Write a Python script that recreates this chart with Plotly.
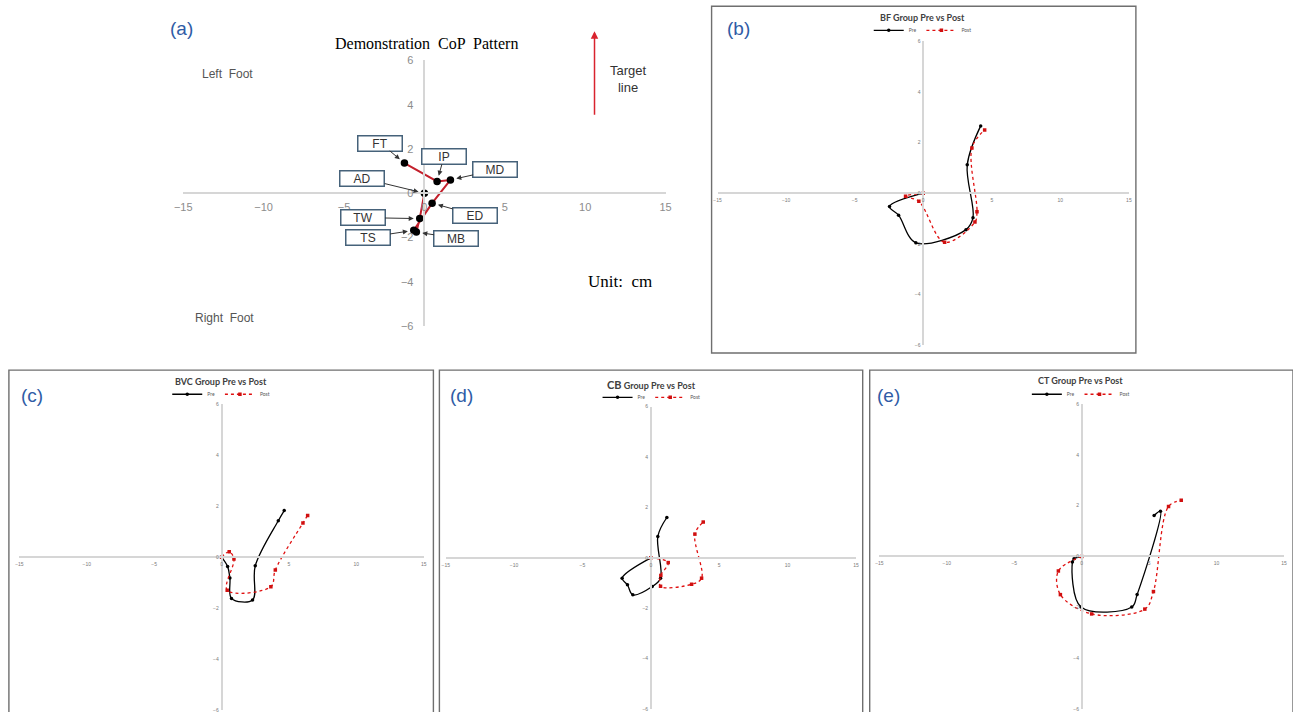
import plotly.graph_objects as go

# target picture size and the page framing around the figure
PAGE_W, PAGE_H = 1293, 712
BODY_MARGIN = 8
SX = PAGE_W / (PAGE_W + 2 * BODY_MARGIN)
SY = PAGE_H / (PAGE_H + 2 * BODY_MARGIN)
W, H = PAGE_W + BODY_MARGIN, PAGE_H + BODY_MARGIN

# ---- data -------------------------------------------------------------
# (a) demonstration CoP pattern over the swing phases
demo_phases = ["AD", "TW", "MB", "TS", "ED", "MD", "IP", "FT"]
demo_x = [0.0, -0.29, -0.50, -0.66, 0.48, 1.62, 0.79, -1.24]
demo_y = [0.0, -1.15, -1.76, -1.68, -0.45, 0.60, 0.53, 1.36]

# (b) BF group
bf_pre_x = [0.0, -2.46, -1.80, -0.54, 3.12, 3.63, 3.21, 4.19]
bf_pre_y = [0.0, -0.53, -0.87, -1.96, -1.44, -0.97, 1.12, 2.66]
bf_post_x = [0.0, -1.29, -0.32, 1.56, 3.77, 3.92, 3.55, 4.48]
bf_post_y = [0.0, -0.12, -0.32, -1.94, -1.14, -0.73, 1.79, 2.50]

# (c) BVC group
bvc_pre_x = [0.0, 0.45, 0.62, 0.74, 2.30, 2.50, 4.21, 4.65]
bvc_pre_y = [0.0, -0.37, -0.82, -1.62, -1.68, -0.34, 1.43, 1.83]
bvc_post_x = [0.0, 0.57, 0.92, 0.42, 3.66, 3.99, 6.04, 6.39]
bvc_post_y = [0.0, 0.21, -0.07, -1.30, -1.16, -0.50, 1.34, 1.64]

# (d) CB group
cb_pre_x = [0.0, -2.10, -1.71, -1.32, 0.10, 0.71, 0.51, 1.17]
cb_pre_y = [0.0, -0.81, -1.07, -1.47, -1.14, -0.81, 0.85, 1.60]
cb_post_x = [0.0, 1.27, 0.73, 0.71, 2.98, 3.71, 3.22, 3.83]
cb_post_y = [0.0, -0.19, -0.70, -1.13, -1.05, -0.81, 0.94, 1.42]

# (e) CT group
ct_pre_x = [0.0, -0.57, -0.69, -0.05, 3.71, 4.11, 5.84, 5.37]
ct_pre_y = [0.0, -0.09, -0.22, -1.99, -1.99, -1.50, 1.78, 1.61]
ct_post_x = [0.0, -1.73, -1.58, 0.74, 4.68, 5.32, 6.44, 7.38]
ct_post_y = [0.0, -0.57, -1.50, -2.26, -2.07, -1.38, 1.97, 2.21]

x_ticks = [-15, -10, -5, 0, 5, 10, 15]
y_ticks = [-6, -4, -2, 0, 2, 4, 6]


# ---- layout helpers (picture pixels -> paper fractions) ----------------
def fx(p):
    return (p / SX - BODY_MARGIN) / W


def fy(p):
    return 1 - (p / SY - BODY_MARGIN) / H


PANEL_BLUE = "#2f5ca6"
AXIS_GREY = "#d6d6d6"

fig = go.Figure()

# plot-area rectangles in picture pixels: (left, right, top, bottom)
boxes = {
    "a": (182, 664, 62, 326),
    "b": (716, 1127, 43, 345),
    "c": (18.3, 422.3, 404, 708),
    "d": (444.3, 854.3, 406.3, 707),
    "e": (877.7, 1282, 403.7, 707),
}
axis_ids = {"a": "", "b": "2", "c": "3", "d": "4", "e": "5"}

layout_axes = {}
for key, (l, r, t, b) in boxes.items():
    n = axis_ids[key]
    small = key != "a"
    tfont = dict(size=5 if small else 11, color="#7a7a7a" if small else "#8c8c8c",
                 family="Liberation Sans")
    cx = (l + r) / 2
    cy = (t + b) / 2
    yd = [max(fy(b), 0.0), min(fy(t), 1.0)]
    layout_axes["xaxis" + n] = dict(
        domain=[fx(l), fx(r)], range=[-15, 15], anchor="free", position=fy(cy),
        showline=True, linecolor=AXIS_GREY, linewidth=1.5, showgrid=False,
        zeroline=False, tickvals=x_ticks, ticks="outside",
        ticklen=2 if small else 4, tickcolor="rgba(0,0,0,0)", tickfont=tfont,
        fixedrange=True,
    )
    # keep y = 0 in the middle of the full -6..6 span even if clipped
    lo = -6 + 12 * (yd[0] - fy(b)) / (fy(t) - fy(b))
    layout_axes["yaxis" + n] = dict(
        domain=yd, range=[lo, 6], anchor="free", position=fx(cx),
        showline=True, linecolor=AXIS_GREY, linewidth=1.5, showgrid=False,
        zeroline=False, tickvals=y_ticks, ticks="outside",
        ticklen=1 if small else 8, tickcolor="rgba(0,0,0,0)", tickfont=tfont,
        fixedrange=True,
    )


def text_note(px, py, text, size, color, family):
    return dict(x=fx(px), y=fy(py), xref="paper", yref="paper", text=text,
                showarrow=False, xanchor="center", yanchor="middle",
                font=dict(size=size, color=color, family=family))


# ---- (a) demonstration pattern -----------------------------------------
fig.add_trace(go.Scatter(
    x=demo_x, y=demo_y, mode="lines+markers", showlegend=False,
    line=dict(color="#c3202c", width=2),
    marker=dict(color="black", size=7.5),
    xaxis="x", yaxis="y",
))

# label box offsets (pixels from each phase point)
label_offsets = {
    "FT": (-24, -20), "IP": (7, -25), "MD": (45, -10), "AD": (-62, -15),
    "ED": (43, 12), "TW": (-57, -1), "TS": (-46, 7), "MB": (40, 6),
}
annotations = []
for name, px, py in zip(demo_phases, demo_x, demo_y):
    dx, dy = label_offsets[name]
    annotations.append(dict(
        x=px, y=py, xref="x", yref="y", text=name, showarrow=True,
        ax=dx, ay=dy, arrowhead=2, arrowsize=1, arrowwidth=1,
        arrowcolor="#333333", standoff=6,
        bordercolor="#46627a", borderwidth=1.5, borderpad=1,
        bgcolor="white", width=41, height=12,
        font=dict(size=12, color="#333333", family="Liberation Sans"),
    ))

# (a) texts
annotations += [
    text_note(180, 30, "(a)", 19, PANEL_BLUE, "Liberation Sans"),
    text_note(425, 45, "Demonstration  CoP  Pattern", 16, "black", "Liberation Serif"),
    text_note(226, 75, "Left  Foot", 12, "#555555", "Liberation Sans"),
    text_note(223, 318, "Right  Foot", 12, "#555555", "Liberation Sans"),
    text_note(627, 80, "Target<br>line", 13, "#333333", "Liberation Sans"),
    text_note(618, 282, "Unit:  cm", 17, "black", "Liberation Serif"),
    # target direction arrow
    dict(x=fx(593), y=fy(33), xref="paper", yref="paper", text="", showarrow=True,
         ax=0, ay=85, arrowhead=2, arrowsize=1, arrowwidth=1.5, arrowcolor="#d9232e"),
]

# ---- (b)-(e) group comparisons ----------------------------------------
groups = [
    ("b", "BF Group Pre vs Post", bf_pre_x, bf_pre_y, bf_post_x, bf_post_y,
     (710, 1134, 8, 353), (921, 19), (921, 32), (737, 30), "legend"),
    ("c", "BVC Group Pre vs Post", bvc_pre_x, bvc_pre_y, bvc_post_x, bvc_post_y,
     (7.8, 432, 370, 730), (220, 381), (220, 394), (31, 395), "legend2"),
    ("d", "<span style='font-size:11px'>CB</span> Group Pre vs Post",
     cb_pre_x, cb_pre_y, cb_post_x, cb_post_y,
     (438, 861, 370, 730), (650, 384), (650, 397), (460, 395), "legend3"),
    ("e", "CT Group Pre vs Post", ct_pre_x, ct_pre_y, ct_post_x, ct_post_y,
     (868, 1291, 370, 730), (1079, 380), (1079, 394), (887, 395), "legend4"),
]

shapes = []
legends = {}
for key, title, prx, pry, pox, poy, frame, tpos, lpos, ppos, leg in groups:
    n = axis_ids[key]
    fig.add_trace(go.Scatter(
        x=prx, y=pry, name="Pre", mode="lines+markers", line_shape="spline",
        line=dict(color="black", width=1.3), marker=dict(color="black", size=3.5),
        xaxis="x" + n, yaxis="y" + n, legend=leg,
    ))
    fig.add_trace(go.Scatter(
        x=pox, y=poy, name="Post", mode="lines+markers", line_shape="spline",
        line=dict(color="#e01010", width=1.3, dash="dot"),
        marker=dict(color="#d01010", size=3.5, symbol="square"),
        xaxis="x" + n, yaxis="y" + n, legend=leg,
    ))
    l, r, t, b = frame
    shapes.append(dict(type="rect", xref="paper", yref="paper",
                       x0=fx(l), x1=fx(r), y0=fy(b), y1=fy(t),
                       line=dict(color="#6f6f6f", width=1.4), layer="below"))
    annotations.append(text_note(tpos[0], tpos[1], "<b>" + title + "</b>", 9,
                                 "#404040", "Lato"))
    annotations.append(text_note(ppos[0], ppos[1], "(" + key + ")", 19,
                                 PANEL_BLUE, "Liberation Sans"))
    legends[leg] = dict(
        x=fx(lpos[0]), y=fy(lpos[1]), xanchor="center", yanchor="middle",
        orientation="h", bgcolor="rgba(0,0,0,0)",
        font=dict(size=5, color="#595959", family="Lato"),
        itemwidth=30, tracegroupgap=0,
    )

fig.update_layout(
    width=W, height=H, margin=dict(l=0, r=0, t=0, b=0),
    paper_bgcolor="white", plot_bgcolor="rgba(0,0,0,0)",
    annotations=annotations, shapes=shapes, **layout_axes, **legends,
)

fig.write_html("out.html")
